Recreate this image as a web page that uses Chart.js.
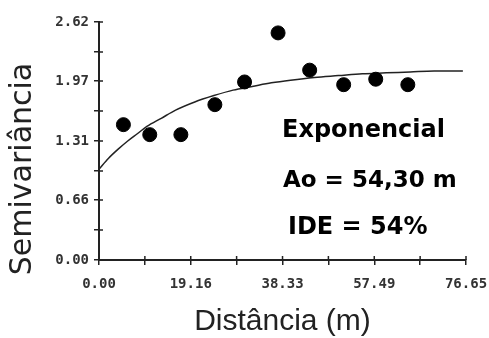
<!DOCTYPE html>
<html>
<head>
<meta charset="utf-8">
<script src="https://cdn.jsdelivr.net/npm/chart.js@4"></script>
<style>
  body { margin: 0; background: #fff; }
  #wrap { width: 489px; height: 338px; }
</style>
</head>
<body>
<div id="wrap"><canvas id="semivar-chart" width="489" height="338"></canvas></div>
<script>
// observed semivariance (lag distance in m, semivariance)
const lagDist = [5.1, 10.6, 17.1, 24.2, 30.4, 37.4, 44.0, 51.1, 57.8, 64.5];
const semivar = [1.49, 1.38, 1.38, 1.71, 1.96, 2.50, 2.09, 1.93, 1.99, 1.93];

// fitted exponential model
const modelDist = [0, 2, 4, 6, 8, 10, 13, 16, 20, 24, 28, 32, 36, 40, 45, 50, 55, 60, 65, 70, 76];
const modelVal = [1.00, 1.12, 1.22, 1.31, 1.39, 1.47, 1.56, 1.65, 1.74, 1.81, 1.87, 1.91, 1.95, 1.98, 2.01, 2.03, 2.05, 2.06, 2.07, 2.08, 2.08];

// axis ticks
const xTicks = [0, 9.58, 19.16, 28.74, 38.33, 47.91, 57.49, 67.07, 76.65];
const xTickLabels = ['0.00', '', '19.16', '', '38.33', '', '57.49', '', '76.65'];
const yTicks = [0, 0.33, 0.66, 0.98, 1.31, 1.64, 1.97, 2.29, 2.62];
const yTickLabels = ['0.00', '', '0.66', '', '1.31', '', '1.97', '', '2.62'];

const notes = ['Exponencial', 'Ao = 54,30 m', 'IDE = 54%'];

// tick marks that cross the axis line (inner half)
const innerTicks = {
    id: 'innerTicks',
    afterDatasetsDraw(chart) {
        const ctx = chart.ctx;
        const x = chart.scales.x, y = chart.scales.y;
        ctx.save();
        ctx.strokeStyle = '#222';
        ctx.lineWidth = 1.5;
        ctx.beginPath();
        x.ticks.forEach(t => {
            const px = x.getPixelForValue(t.value);
            ctx.moveTo(px, y.bottom);
            ctx.lineTo(px, y.bottom - 4);
        });
        y.ticks.forEach(t => {
            const py = y.getPixelForValue(t.value);
            ctx.moveTo(x.left, py);
            ctx.lineTo(x.left + 4, py);
        });
        ctx.stroke();
        ctx.restore();
    }
};

// y title + model text
const labels = {
    id: 'labels',
    afterDraw(chart) {
        const ctx = chart.ctx;
        ctx.save();
        ctx.fillStyle = '#222';
        ctx.font = '30px "DejaVu Sans"';
        ctx.textAlign = 'center';
        ctx.textBaseline = 'middle';
        ctx.translate(23, 169);
        ctx.rotate(-Math.PI / 2);
        ctx.fillText('Semivariância', 0, 0);
        ctx.restore();

        ctx.save();
        ctx.fillStyle = '#000';
        ctx.textAlign = 'left';
        ctx.textBaseline = 'alphabetic';
        ctx.font = 'bold 24px "DejaVu Sans"';
        ctx.fillText(notes[0], 282, 137);
        ctx.font = 'bold 23px "DejaVu Sans"';
        ctx.fillText(notes[1], 283, 187);
        ctx.font = 'bold 24px "DejaVu Sans"';
        ctx.fillText(notes[2], 288, 234);
        ctx.restore();
    }
};

const tickFont = { family: '"DejaVu Sans Mono"', size: 14, weight: 'bold' };

new Chart(document.getElementById('semivar-chart').getContext('2d'), {
    type: 'scatter',
    data: {
        datasets: [{
            label: 'Semivariância',
            data: lagDist.map((d, i) => ({ x: d, y: semivar[i] })),
            backgroundColor: '#000',
            borderColor: '#000',
            pointRadius: 7,
            pointHoverRadius: 7,
            order: 0
        }, {
            type: 'line',
            label: 'Exponencial',
            data: modelDist.map((d, i) => ({ x: d, y: modelVal[i] })),
            borderColor: '#222',
            borderWidth: 1.5,
            pointRadius: 0,
            fill: false,
            cubicInterpolationMode: 'monotone',
            order: 1
        }]
    },
    options: {
        responsive: false,
        animation: false,
        events: [],
        layout: { padding: { top: 22, right: 23, left: 0, bottom: 0 } },
        plugins: { legend: { display: false }, tooltip: { enabled: false } },
        scales: {
            x: {
                type: 'linear',
                min: 0,
                max: 76.65,
                afterBuildTicks: s => { s.ticks = xTicks.map(v => ({ value: v })); },
                afterFit: s => { s.height = 78; s.paddingLeft = 0; s.paddingRight = 0; },
                ticks: {
                    autoSkip: false,
                    maxRotation: 0,
                    padding: 11,
                    color: '#333',
                    font: tickFont,
                    callback: (v, i) => xTickLabels[i]
                },
                grid: { drawOnChartArea: false, drawTicks: true, tickLength: 5, color: '#222', lineWidth: 1.5 },
                border: { display: true, color: '#222', width: 2 },
                title: {
                    display: true,
                    text: 'Distância (m)',
                    color: '#222',
                    font: { family: '"Liberation Sans"', size: 30, lineHeight: 1 },
                    padding: { top: 0, bottom: 1 }
                }
            },
            y: {
                type: 'linear',
                min: 0,
                max: 2.62,
                afterBuildTicks: s => { s.ticks = yTicks.map(v => ({ value: v })); },
                afterFit: s => { s.width = 99; s.paddingTop = 0; s.paddingBottom = 0; },
                ticks: {
                    autoSkip: false,
                    padding: 5,
                    color: '#333',
                    font: tickFont,
                    callback: (v, i) => yTickLabels[i]
                },
                grid: { drawOnChartArea: false, drawTicks: true, tickLength: 5, color: '#222', lineWidth: 1.5 },
                border: { display: true, color: '#222', width: 2 }
            }
        }
    },
    plugins: [innerTicks, labels]
});
</script>
</body>
</html>
